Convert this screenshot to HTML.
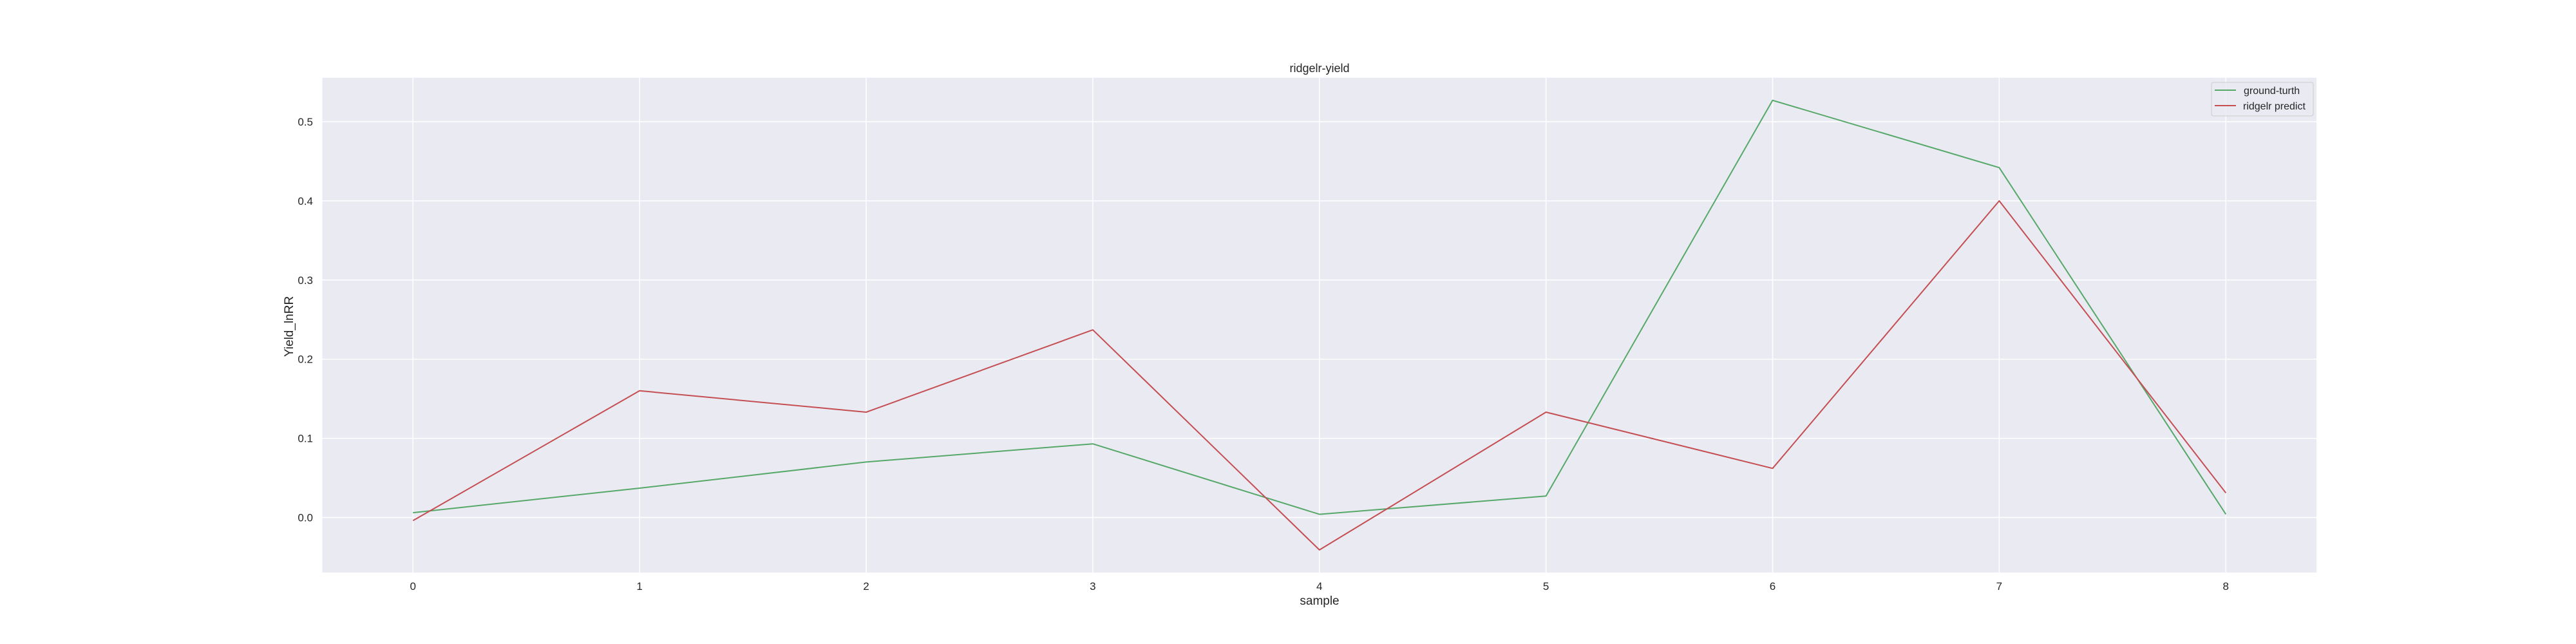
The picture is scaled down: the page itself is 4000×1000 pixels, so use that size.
<!DOCTYPE html>
<html><head><meta charset="utf-8"><style>
html,body{margin:0;padding:0;background:#fff;}
svg{display:block;font-family:"Liberation Sans","DejaVu Sans",sans-serif;}
</style></head><body>
<svg id="chart" width="4000" height="1000" viewBox="0 0 4000 1000" xmlns="http://www.w3.org/2000/svg">
<rect x="500.5" y="120.7" width="3096.5" height="768.3" fill="#eaeaf2"/>
<g id="grid"></g>
<g id="xticks"></g>
<g id="yticks"></g>
<g id="series"></g>
<text x="2049" y="112" font-size="18" text-anchor="middle" fill="#262626">ridgelr-yield</text>
<text x="2049" y="939" font-size="19" text-anchor="middle" fill="#262626">sample</text>
<text x="455" y="507" font-size="19" text-anchor="middle" fill="#262626" transform="rotate(-90 455 507)">Yield_lnRR</text>
<g>
<rect x="3434" y="128" width="158" height="52" rx="3" fill="#eaeaf2" fill-opacity="0.8" stroke="#cccccc" stroke-width="1"/>
<line x1="3439" y1="140" x2="3472" y2="140" stroke="#55a868" stroke-width="2"/>
<text x="3484" y="146" font-size="16" fill="#262626">ground-turth</text>
<line x1="3439" y1="164" x2="3472" y2="164" stroke="#c44e52" stroke-width="2"/>
<text x="3483" y="170" font-size="16" fill="#262626">ridgelr predict</text>
</g>
</svg>
<script>
const categories = [0,1,2,3,4,5,6,7,8];
const groundTruth = [0.006,0.037,0.070,0.093,0.004,0.027,0.527,0.442,0.004];
const ridgePredict = [-0.004,0.160,0.133,0.237,-0.041,0.133,0.062,0.400,0.031];
const yTickValues = [0.0,0.1,0.2,0.3,0.4,0.5];
const yTickLabels = ["0.0","0.1","0.2","0.3","0.4","0.5"];

const NS = "http://www.w3.org/2000/svg";
const L=500.5,R=3597,T=120.7,B=889;
const xMin=-0.4,xMax=8.4,yMin=-0.0696,yMax=0.5556;
function xs(v){return L+(v-xMin)/(xMax-xMin)*(R-L);}
function ys(v){return B-(v-yMin)/(yMax-yMin)*(B-T);}
function mk(tag,attrs,parent){const e=document.createElementNS(NS,tag);for(const k in attrs)e.setAttribute(k,attrs[k]);parent.appendChild(e);return e;}
const grid=document.getElementById('grid'),xt=document.getElementById('xticks'),yt=document.getElementById('yticks'),se=document.getElementById('series');
categories.forEach(c=>{
  const g=mk('line',{x1:xs(c),x2:xs(c),y1:T,y2:B,stroke:'#ffffff','stroke-width':1.5},grid);
  
  
  const t=mk('text',{x:xs(c),y:916,'font-size':17,'text-anchor':'middle',fill:'#262626'},xt);
  t.textContent=String(c);
  
  
});
yTickValues.forEach((v,i)=>{
  const g=mk('line',{x1:L,x2:R,y1:ys(v),y2:ys(v),stroke:'#ffffff','stroke-width':1.5},grid);
  
  
  const t=mk('text',{x:486,y:ys(v)+6,'font-size':17,'text-anchor':'end',fill:'#262626'},yt);
  t.textContent=yTickLabels[i];
  
  
});
function drawLine(vals,color,name){
  const pts=vals.map((v,i)=>xs(categories[i]).toFixed(1)+','+ys(v).toFixed(1)).join(' ');
  const p=mk('polyline',{points:pts,fill:'none',stroke:color,'stroke-width':2,'stroke-linejoin':'round'},se);
  
  
}
drawLine(groundTruth,'#55a868','ground-truth-line');
drawLine(ridgePredict,'#c44e52','ridgelr-predict-line');
</script>
</body></html>
